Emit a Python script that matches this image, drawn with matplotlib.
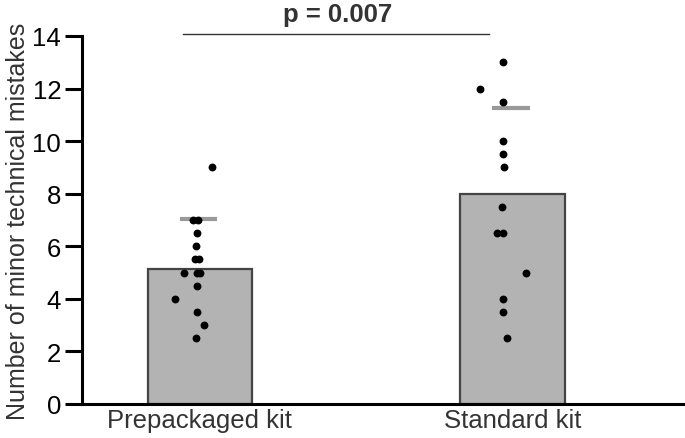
import matplotlib.pyplot as plt
import numpy as np

plt.rcParams['font.family'] = ['Liberation Sans', 'DejaVu Sans']

# data
groups = ['Prepackaged kit', 'Standard kit']
bar_means = [5.15, 8.0]
sd_marks = [7.03, 11.25]

pre_vals = [9, 7, 7, 6.5, 6, 5.5, 5.5, 5, 5, 5, 4.5, 4, 3.5, 3, 2.5]
pre_jitter = [0.039, -0.022, -0.006, -0.009, -0.013, -0.017, -0.002, -0.050, -0.009, -0.001, -0.009, -0.081, -0.009, 0.012, -0.011]

std_vals = [13, 12, 11.5, 10, 9.5, 9, 7.5, 6.5, 6.5, 5, 4, 3.5, 2.5]
std_jitter = [-0.031, -0.104, -0.030, -0.031, -0.031, -0.026, -0.033, -0.050, -0.029, 0.042, -0.031, -0.031, -0.017]

p_text = 'p = 0.007'

fig = plt.figure(figsize=(6.85, 4.39), dpi=100)
ax = fig.add_axes([82 / 685, 34 / 439, 603 / 685, 368 / 439])

x = np.arange(len(groups))
ax.bar(x, bar_means, width=0.334, color='#b3b3b3', edgecolor='#444444', linewidth=1.6, zorder=1)

ax.scatter(x[0] + np.array(pre_jitter), pre_vals, s=32, color='black', zorder=3, linewidths=0)
ax.scatter(x[1] + np.array(std_jitter), std_vals, s=32, color='black', zorder=3, linewidths=0)

for xi, sd in zip(x, sd_marks):
    ax.plot([xi - 0.065, xi + 0.055], [sd, sd], color='#999999', lw=3, solid_capstyle='butt', zorder=2)

# significance line
ax.plot([-0.053, 0.926], [14.08, 14.08], color='#333333', lw=1, clip_on=False)
ax.text(0.44, 14.84, p_text, ha='center', va='center', fontsize=18.5, fontweight='bold', color='#333333')

ax.set_xlim(-0.377, 1.552)
ax.set_ylim(0, 14)
ax.set_yticks(range(0, 15, 2))
ax.set_xticks(x)
ax.set_xticklabels(groups, fontsize=18.5, color='#333333')
ax.tick_params(axis='y', labelsize=18.5, length=12, width=2.2, pad=3)
ax.tick_params(axis='x', length=0, pad=3)
ax.set_ylabel('Number of minor technical mistakes', fontsize=18, color='#333333', labelpad=2)

for s in ['top', 'right']:
    ax.spines[s].set_visible(False)
ax.spines['left'].set_linewidth(2.2)
ax.spines['bottom'].set_linewidth(2.2)

fig.savefig('out.png', dpi=100)
